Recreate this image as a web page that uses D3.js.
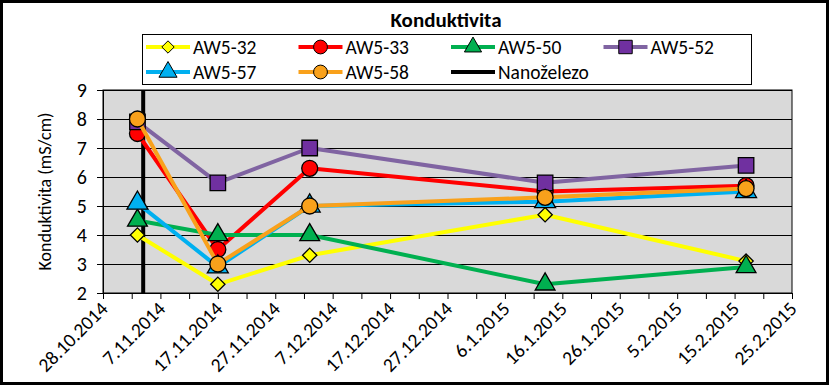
<!DOCTYPE html>
<html>
<head>
<meta charset="utf-8">
<script src="https://cdn.jsdelivr.net/npm/d3@7"></script>
<style>
  body { margin: 0; background: #fff; }
  svg text { font-family: Carlito, "Liberation Sans Narrow", "Open Sans", sans-serif; }
</style>
</head>
<body>
<div id="chart"></div>
<script>
// Data
const dates = ["2014-11-03", "2014-11-17", "2014-12-03", "2015-01-13", "2015-02-17"];
const aw532 = [4.0, 2.3, 3.3, 4.7, 3.1];
const aw533 = [7.5, 3.5, 6.3, 5.5, 5.7];
const aw550 = [4.5, 4.0, 4.0, 2.3, 2.9];
const aw552 = [7.9, 5.8, 7.0, 5.8, 6.4];
const aw557 = [5.1, 2.9, 5.0, 5.15, 5.5];
const aw558 = [8.0, 3.0, 5.0, 5.3, 5.6];
const nanoDate = "2014-11-04";
const yTicks = [2, 3, 4, 5, 6, 7, 8, 9];
const xDomain = ["2014-10-28", "2015-02-25"];

const series = [
  {name: "AW5-32", values: aw532, line: "#ffff00", fill: "#ffff00", sym: d3.symbolDiamond2, size: 130},
  {name: "AW5-33", values: aw533, line: "#ff0000", fill: "#ff0000", sym: d3.symbolCircle, size: 200},
  {name: "AW5-50", values: aw550, line: "#00b050", fill: "#00b050", sym: d3.symbolTriangle, size: 170},
  {name: "AW5-52", values: aw552, line: "#8064a2", fill: "#7030a0", sym: d3.symbolSquare, size: 240},
  {name: "AW5-57", values: aw557, line: "#00b0f0", fill: "#00b0f0", sym: d3.symbolTriangle, size: 190},
  {name: "AW5-58", values: aw558, line: "#f9a11b", fill: "#f9a11b", sym: d3.symbolCircle, size: 200}
];

const width = 829, height = 385;
const margin = {top: 90, right: 37, bottom: 92, left: 103};
const parse = d3.utcParse("%Y-%m-%d");
const fmt = d3.utcFormat("%-d.%-m.%Y");

const svg = d3.select("#chart").append("svg")
    .attr("width", width)
    .attr("height", height);

// Outer border
svg.append("rect")
    .attr("x", 1.5).attr("y", 1.5)
    .attr("width", width - 3).attr("height", height - 3)
    .attr("fill", "#fff").attr("stroke", "#000").attr("stroke-width", 3);

const x = d3.scaleUtc()
    .domain(xDomain.map(parse))
    .range([margin.left, width - margin.right]);
const y = d3.scaleLinear()
    .domain([2, 9])
    .range([height - margin.bottom, margin.top]);

// Plot background
svg.append("rect")
    .attr("x", x.range()[0]).attr("y", y(9))
    .attr("width", x.range()[1] - x.range()[0])
    .attr("height", y(2) - y(9))
    .attr("fill", "#d9d9d9")
    .attr("stroke", "#000").attr("stroke-width", 1);

// Gridlines
svg.append("g")
    .selectAll("line")
    .data(yTicks)
    .join("line")
      .attr("x1", x.range()[0]).attr("x2", x.range()[1])
      .attr("y1", d => Math.round(y(d)) + 0.5).attr("y2", d => Math.round(y(d)) + 0.5)
      .attr("stroke", "#000");

// Y axis
svg.append("g")
    .attr("transform", `translate(${x.range()[0]},0)`)
    .call(d3.axisLeft(y).tickValues(yTicks).tickSize(6).tickPadding(10).tickFormat(d3.format("d")))
    .call(g => g.selectAll("text").attr("font-size", 20).attr("fill", "#000"))
    .call(g => g.selectAll("line,path").attr("stroke", "#000"));

// X axis
const xTicks = d3.range(0, 121, 5).map(n => d3.utcDay.offset(parse(xDomain[0]), n));
svg.append("g")
    .attr("transform", `translate(0,${y(2)})`)
    .call(d3.axisBottom(x).tickValues(xTicks).tickSize(6).tickFormat(""))
    .call(g => g.selectAll("line,path").attr("stroke", "#000"));

svg.append("g")
    .selectAll("text")
    .data(xTicks.filter((d, i) => i % 2 === 0))
    .join("text")
      .attr("transform", d => `translate(${x(d) + 6},${y(2) + 17}) rotate(-45)`)
      .attr("text-anchor", "end")
      .attr("font-size", 19.5)
      .attr("fill", "#000")
      .text(d => fmt(d));

// Y label
svg.append("text")
    .attr("transform", `translate(51,${(y(2) + y(9)) / 2}) rotate(-90)`)
    .attr("text-anchor", "middle")
    .attr("font-size", 18)
    .text("Konduktivita (mS/cm)");

// Title
svg.append("text")
    .attr("x", 446).attr("y", 27)
    .attr("text-anchor", "middle")
    .attr("font-size", 21)
    .attr("font-weight", "bold")
    .text("Konduktivita");

// Nanoželezo line
svg.append("line")
    .attr("x1", x(parse(nanoDate))).attr("x2", x(parse(nanoDate)))
    .attr("y1", y(9)).attr("y2", y(2))
    .attr("stroke", "#000").attr("stroke-width", 4);

// Series lines
const line = d3.line()
    .x((d, i) => x(parse(dates[i])))
    .y(d => y(d));

series.forEach(s => {
  svg.append("path")
      .datum(s.values)
      .attr("fill", "none")
      .attr("stroke", s.line)
      .attr("stroke-width", 4)
      .attr("stroke-linejoin", "round")
      .attr("d", line);
  svg.append("g")
    .selectAll("path")
    .data(s.values)
    .join("path")
      .attr("transform", (d, i) => `translate(${x(parse(dates[i]))},${y(d)})`)
      .attr("d", d3.symbol(s.sym, s.size))
      .attr("fill", s.fill)
      .attr("stroke", "#000")
      .attr("stroke-width", 1.3);
});

// Legend
const legend = svg.append("g");
legend.append("rect")
    .attr("x", 142.5).attr("y", 34.5)
    .attr("width", 609).attr("height", 50)
    .attr("fill", "#fff").attr("stroke", "#000");

const legendItems = series.concat([{name: "Nanoželezo", line: "#000"}]);
legendItems.forEach((s, i) => {
  const col = i % 4, row = Math.floor(i / 4);
  const lx = 146 + col * 152.5, ly = 47 + row * 25;
  const g = legend.append("g").attr("transform", `translate(${lx},${ly})`);
  g.append("line")
      .attr("x1", 0).attr("x2", 44)
      .attr("stroke", s.line).attr("stroke-width", 4);
  if (s.sym) {
    g.append("path")
        .attr("transform", "translate(22,0)")
        .attr("d", d3.symbol(s.sym, s.size * 0.75))
        .attr("fill", s.fill)
        .attr("stroke", "#000")
        .attr("stroke-width", 1);
  }
  g.append("text")
      .attr("x", 47).attr("y", 7)
      .attr("font-size", 19.5)
      .text(s.name);
});
</script>
</body>
</html>
